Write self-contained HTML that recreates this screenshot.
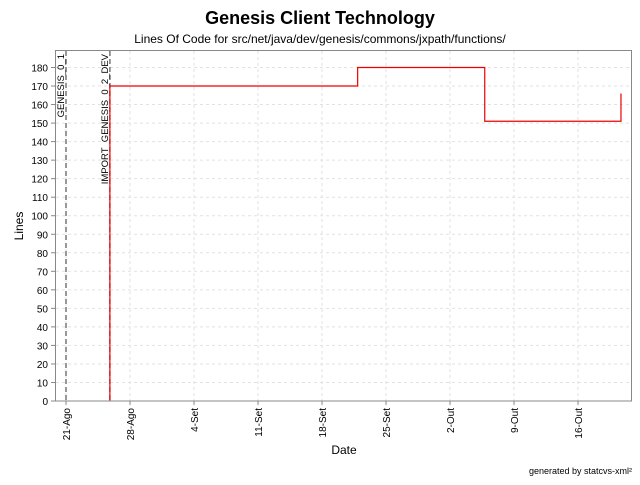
<!DOCTYPE html>
<html><head><meta charset="utf-8"><style>
body{margin:0;background:#fff;font-family:"Liberation Sans",sans-serif}
</style></head><body>
<svg width="640" height="480" xmlns="http://www.w3.org/2000/svg" font-family="Liberation Sans, sans-serif">
<text x="320" y="24" text-anchor="middle" font-size="18" font-weight="bold">Genesis Client Technology</text>
<text x="320" y="43" text-anchor="middle" font-size="12">Lines Of Code for src/net/java/dev/genesis/commons/jxpath/functions/</text>
<g id="grid"></g>
<g id="marks"></g>
<rect x="55.5" y="50.5" width="576" height="350.5" fill="none" stroke="#888"/>
<g id="axes"></g>
<text transform="translate(23,226) rotate(-90)" text-anchor="middle" font-size="12">Lines</text>
<text x="344" y="454" text-anchor="middle" font-size="12">Date</text>
<text x="632" y="474" text-anchor="end" font-size="9">generated by statcvs-xml²</text>
</svg>
<script>
const yTicks=[0,10,20,30,40,50,60,70,80,90,100,110,120,130,140,150,160,170,180];
const xTickDays=[0,7,14,21,28,35,42,49,56];
const xTickLabels=["21-Ago","28-Ago","4-Set","11-Set","18-Set","25-Set","2-Out","9-Out","16-Out"];
const stepDays=[4.8,31.9,45.8,60.7];
const stepValues=[170,180,151,166];
const markerDays=[0,4.8];
const markerLabels=["GENESIS_0_1","IMPORT_GENESIS_0_2_DEV"];
const NS="http://www.w3.org/2000/svg";
const X=d=>66+d*64/7;
const Y=v=>401-(v/180)*333.5;
function mk(p,t,a){const e=document.createElementNS(NS,t);for(const k in a)e.setAttribute(k,a[k]);p.appendChild(e);return e;}
const grid=document.getElementById('grid'),axes=document.getElementById('axes'),marks=document.getElementById('marks');
yTicks.forEach(v=>{
 const g=mk(grid,'line',{x1:56,x2:631,y1:Y(v),y2:Y(v),stroke:'#e2e2e2','stroke-dasharray':'3,3'});
 
 
 const tk=mk(axes,'line',{x1:51,x2:55,y1:Y(v),y2:Y(v),stroke:'#888'});
 
 
 const t=mk(axes,'text',{x:48,y:Y(v)+4,'text-anchor':'end','font-size':10});
 t.textContent=v;
 
 
});
xTickDays.forEach((d,i)=>{
 const g=mk(grid,'line',{x1:X(d),x2:X(d),y1:51,y2:401,stroke:'#e2e2e2','stroke-dasharray':'3,3'});
 
 
 const tk=mk(axes,'line',{x1:X(d),x2:X(d),y1:401,y2:405,stroke:'#888'});
 
 
 const t=mk(axes,'text',{transform:`translate(${X(d)+4},408) rotate(-90)`,'text-anchor':'end','font-size':10});
 t.textContent=xTickLabels[i];
 
 
});
markerDays.forEach((d,i)=>{
 const l=mk(marks,'line',{x1:X(d),x2:X(d),y1:51,y2:401,stroke:'#777','stroke-width':1.5,'stroke-dasharray':'5,3'});
 
 
 const t=mk(marks,'text',{transform:`translate(${X(d)-2},54) rotate(-90)`,'text-anchor':'end','font-size':9.5});
 t.textContent=markerLabels[i];
 
 
});
let dpath=`M${X(stepDays[0])},${Y(0)}`;
for(let i=0;i<stepDays.length;i++){
 if(i>0)dpath+=` H${X(stepDays[i])}`;
 dpath+=` V${Y(stepValues[i])}`;
}
const p=mk(marks,'path',{d:dpath,fill:'none',stroke:'#e00','stroke-width':1.2});


</script>
</body></html>
